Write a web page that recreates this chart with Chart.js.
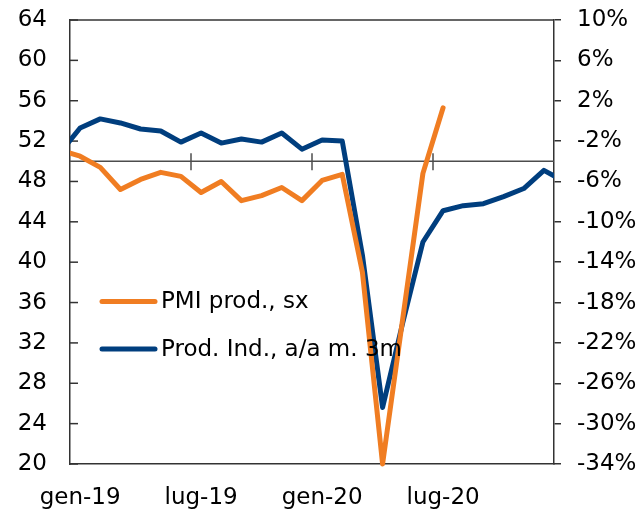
<!DOCTYPE html>
<html>
<head>
<meta charset="utf-8">
<script src="https://cdn.jsdelivr.net/npm/chart.js@4.4.1/dist/chart.umd.min.js"></script>
<style>
html, body { margin: 0; padding: 0; background: #fff; }
#wrap { width: 642px; height: 510px; }
</style>
</head>
<body>
<div id="wrap"><canvas id="chart" width="642" height="510"></canvas></div>
<script>
// monthly categories (first and last fall just outside the visible axis)
const months = ['dic-18','gen-19','feb-19','mar-19','apr-19','mag-19','giu-19','lug-19','ago-19','set-19','ott-19','nov-19','dic-19',
                'gen-20','feb-20','mar-20','apr-20','mag-20','giu-20','lug-20','ago-20','set-20','ott-20','nov-20','dic-20','gen-21'];
const tickMonths = ['gen-19','lug-19','gen-20','lug-20'];

const pmiLabel = 'PMI prod., sx';
const pmiProd = [51.1, 50.5, 49.4, 47.2, 48.2, 48.9, 48.5, 46.9, 48.0, 46.1, 46.6, 47.4, 46.1,
                 48.1, 48.7, 39.0, 20.0, 34.4, 48.8, 55.3];

const ipLabel = 'Prod. Ind., a/a m. 3m';
const indProd = [-3.2, -0.7, 0.2, -0.2, -0.8, -1.0, -2.1, -1.2, -2.2, -1.8, -2.1, -1.2, -2.8,
                 -1.9, -2.0, -13.3, -28.4, -20.0, -12.0, -8.9, -8.4, -8.2, -7.5, -6.7, -4.9, -6.0];

const crossValue = 50;   // left-axis value where the category axis crosses

const orange = '#F07D22';
const blue = '#003E7E';
const axisColor = '#333333';

Chart.defaults.font.family = '"DejaVu Sans", sans-serif';
Chart.defaults.font.size = 23;
Chart.defaults.color = '#000';

const toPoints = arr => arr.map((v, i) => ({x: i, y: v}));

const frame = {
    id: 'frame',
    beforeDatasetsDraw(chart) {
        const {ctx, chartArea: a, scales: {x, y}} = chart;
        const line = (x1, y1, x2, y2) => { ctx.beginPath(); ctx.moveTo(x1, y1); ctx.lineTo(x2, y2); ctx.stroke(); };
        ctx.save();
        ctx.strokeStyle = axisColor;
        ctx.lineWidth = 1.5;
        line(a.left, a.top, a.right, a.top);
        // inward ticks on the left axis
        y.ticks.forEach(t => { const py = y.getPixelForValue(t.value); line(a.left, py, a.left + 8, py); });
        // category axis crossing at 50
        ctx.strokeStyle = '#4d4d4d';
        const y50 = y.getPixelForValue(crossValue);
        line(a.left, y50, a.right, y50);
        tickMonths.slice(1).forEach(m => {
            const px = x.getPixelForValue(months.indexOf(m) - 0.5);
            line(px, y50 - 8, px, y50 + 9);
        });
        ctx.restore();
    },
    afterDatasetsDraw(chart) {
        const {ctx, chartArea: a} = chart;
        ctx.save();
        ctx.font = Chart.defaults.font.size + 'px ' + Chart.defaults.font.family;
        ctx.textBaseline = 'middle';
        ctx.fillStyle = '#000';
        ctx.lineWidth = 5;
        ctx.lineCap = 'round';
        chart.data.datasets.forEach((ds, i) => {
            const ly = a.top + 281.5 + i * 47.5;
            ctx.strokeStyle = ds.borderColor;
            ctx.beginPath();
            ctx.moveTo(a.left + 32, ly);
            ctx.lineTo(a.left + 85, ly);
            ctx.stroke();
            ctx.fillText(ds.label, a.left + 91, ly + 1);
        });
        ctx.restore();
    }
};

new Chart(document.getElementById('chart'), {
    type: 'line',
    data: {
        datasets: [
            {label: pmiLabel, data: toPoints(pmiProd), yAxisID: 'y', borderColor: orange, borderWidth: 5,
             borderJoinStyle: 'round', borderCapStyle: 'round', pointRadius: 0, tension: 0,
             clip: {left: 0, top: 0, right: 0, bottom: 3}},
            {label: ipLabel, data: toPoints(indProd), yAxisID: 'y1', borderColor: blue, borderWidth: 5,
             borderJoinStyle: 'round', borderCapStyle: 'round', pointRadius: 0, tension: 0}
        ]
    },
    options: {
        responsive: false,
        animation: false,
        layout: {padding: 0},
        plugins: {legend: {display: false}, tooltip: {enabled: false}},
        scales: {
            x: {
                type: 'linear', min: 0.5, max: 24.5, position: 'bottom',
                grid: {display: false, drawTicks: false},
                border: {display: true, color: axisColor, width: 1.5},
                ticks: {padding: 20, maxRotation: 0, autoSkip: false, callback: v => months[v]},
                afterBuildTicks: s => { s.ticks = tickMonths.map(m => ({value: months.indexOf(m)})); },
                afterFit: s => { s.height = 46; }
            },
            y: {
                position: 'left', min: 20, max: 64,
                grid: {display: false, drawTicks: false},
                border: {display: true, color: axisColor, width: 1.5},
                ticks: {stepSize: 4, padding: 23},
                afterFit: s => { s.width = 70; s.paddingTop = 20; s.paddingBottom = 0; }
            },
            y1: {
                position: 'right', min: -34, max: 10,
                grid: {display: true, drawOnChartArea: false, drawTicks: true, tickLength: 7, color: axisColor, lineWidth: 1.5},
                border: {display: true, color: axisColor, width: 1.5},
                ticks: {stepSize: 4, padding: 16, callback: v => v + '%'},
                afterFit: s => { s.width = 88; s.paddingTop = 20; s.paddingBottom = 0; }
            }
        }
    },
    plugins: [frame]
});
</script>
</body>
</html>
